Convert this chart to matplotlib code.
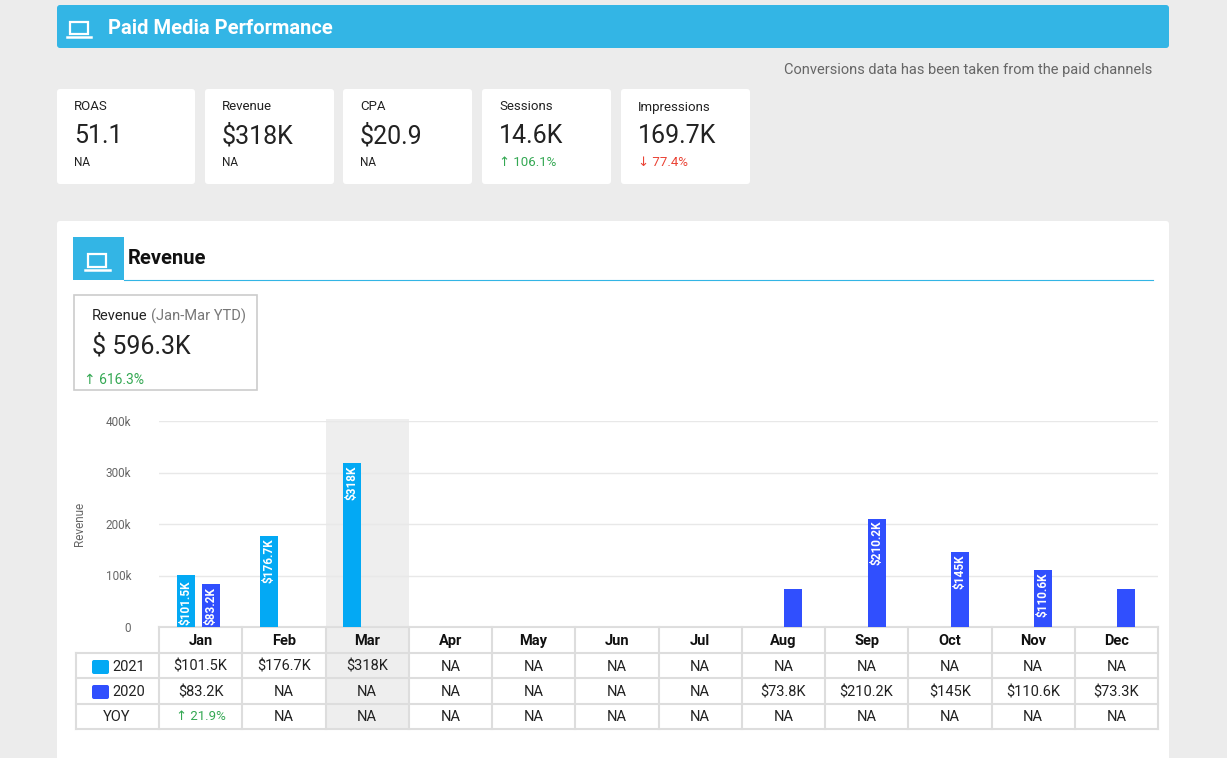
import matplotlib.pyplot as plt
from matplotlib.patches import Rectangle, FancyBboxPatch
import numpy as np

plt.rcParams['font.family'] = ['Roboto', 'DejaVu Sans']

months = ["Jan", "Feb", "Mar", "Apr", "May", "Jun", "Jul", "Aug", "Sep", "Oct", "Nov", "Dec"]
rev_2021 = [101.5, 176.7, 318.0, None, None, None, None, None, None, None, None, None]
rev_2020 = [83.2, None, None, None, None, None, None, 73.8, 210.2, 145.0, 110.6, 73.3]
yoy = ["21.9%", "NA", "NA", "NA", "NA", "NA", "NA", "NA", "NA", "NA", "NA", "NA"]

kpi_names = ["ROAS", "Revenue", "CPA", "Sessions", "Impressions"]
kpi_values = ["51.1", "$318K", "$20.9", "14.6K", "169.7K"]
kpi_deltas = ["NA", "NA", "NA", "↑ 106.1%", "↓ 77.4%"]

C21 = "#03a9f4"
C20 = "#304ffe"
GREEN = "#34a853"
RED = "#ea4335"

W, H = 1227, 758
fig = plt.figure(figsize=(W / 100, H / 100), dpi=100)
fig.patch.set_facecolor("#ececec")
pg = fig.add_axes([0, 0, 1, 1])
pg.set_xlim(0, W)
pg.set_ylim(H, 0)
pg.axis("off")

# header bar
pg.add_patch(FancyBboxPatch((57, 5), 1112, 43, boxstyle="round,pad=0,rounding_size=3",
                            fc="#33b5e5", ec="none"))
pg.text(108, 29, "Paid Media Performance", color="white", fontsize=14.5, weight="bold", va="center")
pg.add_patch(Rectangle((70, 22), 18, 12, fc="none", ec="white", lw=1.6))
pg.plot([67, 91], [37, 37], color="white", lw=1.8)
pg.text(1152, 70, "Conversions data has been taken from the paid channels", color="#666666",
        fontsize=10.5, ha="right", va="center")

# KPI cards
xs = [57, 205, 343, 482, 621]
ws = [138, 129, 129, 129, 129]
for x, w, n, v, d in zip(xs, ws, kpi_names, kpi_values, kpi_deltas):
    pg.add_patch(FancyBboxPatch((x, 89), w, 95, boxstyle="round,pad=0,rounding_size=3", fc="white", ec="none"))
    pg.text(x + 17, 107, n, fontsize=9.5, va="center", color="#222222")
    pg.text(x + 17, 136, v, fontsize=18, va="center", color="#222222")
    col = GREEN if "↑" in d else (RED if "↓" in d else "#222222")
    pg.text(x + 17, 163, d, fontsize=9.5 if d != "NA" else 8.5, va="center", color=col)

# main panel
pg.add_patch(FancyBboxPatch((57, 221), 1112, 545, boxstyle="round,pad=0,rounding_size=3", fc="white", ec="none"))
pg.add_patch(Rectangle((73, 237), 51, 43, fc="#33b5e5", ec="none"))
pg.add_patch(Rectangle((88, 254), 18, 13, fc="none", ec="white", lw=1.6))
pg.plot([85, 110], [270, 270], color="white", lw=1.8)
pg.text(128, 259, "Revenue", fontsize=14.5, weight="bold", va="center", color="#111111")
pg.plot([124, 1153], [280, 280], color="#33b5e5", lw=0.8)

# YTD box
pg.add_patch(Rectangle((74, 295), 183, 95, fc="white", ec="#cccccc", lw=1.2))
pg.text(92, 316, "Revenue", fontsize=10.5, va="center", color="#222222")
pg.text(151, 316, "(Jan-Mar YTD)", fontsize=10.5, va="center", color="#777777")
pg.text(92, 346, "$ 596.3K", fontsize=18, va="center", color="#222222")
pg.text(84, 380, "↑ 616.3%", fontsize=10, va="center", color=GREEN)

# table geometry
x0, x1, lab0 = 159, 1158, 76
cw = (x1 - x0) / 12
rows = [627, 653, 678, 704, 729]
pg.add_patch(Rectangle((x0 + 2 * cw, 419), cw, 729 - 419, fc="#eeeeee", ec="none", zorder=1.5))

for y in rows:
    pg.plot([x0 if y == 627 else lab0, x1], [y, y], color="#dddddd", lw=1.5, zorder=2)
for i in range(13):
    pg.plot([x0 + i * cw] * 2, [627, 729], color="#dddddd", lw=1.5, zorder=2)
pg.plot([lab0, lab0], [653, 729], color="#dddddd", lw=1.5, zorder=2)

def fmt(v):
    if v is None:
        return "NA"
    return f"${v:g}K"

for i, m in enumerate(months):
    cx = x0 + (i + 0.5) * cw
    pg.text(cx, 641, m, ha="center", va="center", fontsize=10.5, weight="bold", color="#111111")
    pg.text(cx, 667, fmt(rev_2021[i]), ha="center", va="center", fontsize=10.5, color="#222222")
    pg.text(cx, 692, fmt(rev_2020[i]), ha="center", va="center", fontsize=10.5, color="#222222")
    if yoy[i] == "NA":
        pg.text(cx, 717, "NA", ha="center", va="center", fontsize=10.5, color="#222222")
    else:
        pg.text(cx, 717, "↑ " + yoy[i], ha="center", va="center", fontsize=9.5, color=GREEN)

pg.add_patch(FancyBboxPatch((92, 660), 17, 14, boxstyle="round,pad=0,rounding_size=2", fc=C21, ec="none"))
pg.text(112, 667, "2021", va="center", fontsize=10.5, color="#222222")
pg.add_patch(FancyBboxPatch((92, 685), 17, 14, boxstyle="round,pad=0,rounding_size=2", fc=C20, ec="none"))
pg.text(112, 692, "2020", va="center", fontsize=10.5, color="#222222")
pg.text(117, 717, "YOY", ha="center", va="center", fontsize=10.5, color="#222222")

# bar chart
ax = fig.add_axes([x0 / W, 1 - 627 / H, (x1 - x0) / W, (627 - 421) / H])
ax.patch.set_alpha(0)
ax.set_xlim(-0.5, 11.5)
ax.set_ylim(0, 400)
for s in ax.spines.values():
    s.set_visible(False)
ax.set_xticks([])
ax.set_yticks([0, 100, 200, 300, 400])
ax.set_yticklabels(["0", "100k", "200k", "300k", "400k"], fontsize=8.5, color="#666666")
ax.tick_params(axis="y", length=0, pad=20)
ax.grid(axis="y", color="#e8e8e8", lw=1)
ax.set_axisbelow(True)
ax.set_ylabel("Revenue", fontsize=8.5, color="#666666", labelpad=14)

bw = 18 / cw
for i in range(12):
    v1, v2 = rev_2021[i], rev_2020[i]
    if v1 is not None:
        xb = i - 0.18
        ax.bar(xb, v1, width=bw, color=C21, zorder=2)
        if i == 0:
            ax.text(xb, 4, fmt(v1), rotation=90, ha="center", va="bottom", fontsize=8.5,
                    weight="bold", color="white", zorder=3)
        else:
            ax.text(xb, v1 - 4, fmt(v1), rotation=90, ha="center", va="top", fontsize=8.5,
                    weight="bold", color="white", zorder=3)
    if v2 is not None:
        xb = i + 0.12
        ax.bar(xb, v2, width=bw, color=C20, zorder=2)
        if i == 0:
            ax.text(xb, 4, fmt(v2), rotation=90, ha="center", va="bottom", fontsize=8.5,
                    weight="bold", color="white", zorder=3)
        elif v2 > 100:
            ax.text(xb, v2 - 4, fmt(v2), rotation=90, ha="center", va="top", fontsize=8.5,
                    weight="bold", color="white", zorder=3)

fig.savefig("out.png", dpi=100, facecolor=fig.get_facecolor())
